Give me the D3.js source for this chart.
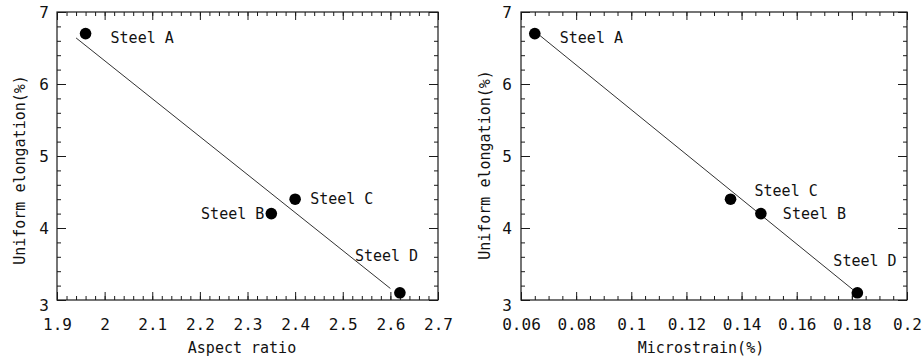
<!DOCTYPE html>
<html>
<head>
<meta charset="utf-8">
<script src="https://cdn.jsdelivr.net/npm/d3@7"></script>
<style>
  body { margin: 0; background: #fff; }
  text { font-family: "DejaVu Sans Mono", monospace; fill: #111; }
</style>
</head>
<body>
<script>
// data
var steels = ["Steel A", "Steel B", "Steel C", "Steel D"];
var elongation = [6.7, 4.2, 4.4, 3.1];
var aspectRatio = [1.96, 2.35, 2.40, 2.62];
var microstrain = [0.065, 0.147, 0.136, 0.182];

// end points of the drawn fit lines
var aspectFitX = [1.94, 2.60];
var aspectFitY = [6.64, 3.16];
var microFitX = [0.066, 0.1805];
var microFitY = [6.70, 3.14];

// tick values
var elongTicks = [3, 4, 5, 6, 7];
var aspectTicks = [1.9, 2, 2.1, 2.2, 2.3, 2.4, 2.5, 2.6, 2.7];
var microTicks = [0.06, 0.08, 0.1, 0.12, 0.14, 0.16, 0.18, 0.2];

var width = 923, height = 360;
var plotTop = 12, plotBottom = 300;
var ink = "#1a1a1a";

var svg = d3.select("body").append("svg")
  .attr("width", width)
  .attr("height", height);

function minorTicks(lo, hi, step) {
  var out = [];
  var n = Math.round((hi - lo) / step);
  for (var i = 0; i <= n; i++) out.push(+(lo + i * step).toFixed(6));
  return out;
}

function drawPanel(p) {
  var x = d3.scaleLinear().domain(p.xDomain).range([p.left, p.right]);
  var y = d3.scaleLinear().domain([3, 7]).range([plotBottom, plotTop]);
  var g = svg.append("g");

  var xMinor = minorTicks(p.xDomain[0], p.xDomain[1], p.xMinorStep);
  var yMinor = minorTicks(3, 7, 0.2);

  var fmt = d3.format("");
  // bottom (labelled) + top
  g.append("g").attr("transform", "translate(0," + plotBottom + ")")
    .call(d3.axisBottom(x).tickValues(xMinor).tickSize(-4).tickFormat(""));
  g.append("g").attr("transform", "translate(0," + plotBottom + ")")
    .call(d3.axisBottom(x).tickValues(p.xTicks).tickSize(-8).tickFormat(fmt))
    .selectAll("text").attr("font-size", 16).attr("dy", "0.35em").attr("y", 24);
  g.append("g").attr("transform", "translate(0," + plotTop + ")")
    .call(d3.axisTop(x).tickValues(xMinor).tickSize(-4).tickFormat(""));
  g.append("g").attr("transform", "translate(0," + plotTop + ")")
    .call(d3.axisTop(x).tickValues(p.xTicks).tickSize(-8).tickFormat(""));

  // left (labelled) + right
  g.append("g").attr("transform", "translate(" + p.left + ",0)")
    .call(d3.axisLeft(y).tickValues(yMinor).tickSize(-4).tickFormat(""));
  g.append("g").attr("transform", "translate(" + p.left + ",0)")
    .call(d3.axisLeft(y).tickValues(elongTicks).tickSize(-9).tickFormat(fmt))
    .selectAll("text").attr("font-size", 16)
    .attr("dy", function(d) { return d === 3 ? "0.65em" : "0.35em"; })
    .attr("x", -p.yLabelPad);
  g.append("g").attr("transform", "translate(" + p.right + ",0)")
    .call(d3.axisRight(y).tickValues(yMinor).tickSize(-4).tickFormat(""));
  g.append("g").attr("transform", "translate(" + p.right + ",0)")
    .call(d3.axisRight(y).tickValues(elongTicks).tickSize(-9).tickFormat(""));

  g.selectAll(".domain").remove();
  g.selectAll(".tick line").attr("stroke", ink).attr("stroke-width", 1);
  g.selectAll(".tick text").attr("fill", "#111").attr("font-family", "DejaVu Sans Mono");

  g.append("rect")
    .attr("x", p.left).attr("y", plotTop)
    .attr("width", p.right - p.left).attr("height", plotBottom - plotTop)
    .attr("fill", "none").attr("stroke", ink).attr("stroke-width", 1.2);

  // fit line
  g.append("line")
    .attr("x1", x(p.fitX[0])).attr("y1", y(p.fitY[0]))
    .attr("x2", x(p.fitX[1])).attr("y2", y(p.fitY[1]))
    .attr("stroke", ink).attr("stroke-width", 0.9);

  // points
  g.selectAll("circle.pt").data(steels).enter().append("circle")
    .attr("class", "pt")
    .attr("cx", function(d, i) { return x(p.xs[i]); })
    .attr("cy", function(d, i) { return y(elongation[i]); })
    .attr("r", 5.8)
    .attr("fill", "#000");

  // point labels
  g.selectAll("text.lbl").data(steels).enter().append("text")
    .attr("class", "lbl")
    .attr("x", function(d, i) { return x(p.xs[i]) + p.labelOff[i][0]; })
    .attr("y", function(d, i) { return y(elongation[i]) + p.labelOff[i][1]; })
    .attr("text-anchor", function(d, i) { return p.labelOff[i][2] || "start"; })
    .attr("dominant-baseline", "central")
    .attr("font-size", 15)
    .text(function(d) { return d; });

  // titles
  g.append("text")
    .attr("x", p.xTitleX).attr("y", 348)
    .attr("text-anchor", "middle").attr("dominant-baseline", "central")
    .attr("font-size", 15)
    .text(p.xTitle);
  g.append("text")
    .attr("transform", "translate(" + p.yTitleX + "," + p.yTitleY + ") rotate(-90)")
    .attr("text-anchor", "middle").attr("dominant-baseline", "central")
    .attr("font-size", 15)
    .text("Uniform elongation(%)");
}

drawPanel({
  left: 57, right: 438,
  xDomain: [1.9, 2.7], xMinorStep: 0.02, xTicks: aspectTicks,
  xs: aspectRatio, fitX: aspectFitX, fitY: aspectFitY,
  labelOff: [[25, 4], [-7, 0, "end"], [15, 0], [-45, -37]],
  xTitle: "Aspect ratio", xTitleX: 242,
  yTitleX: 20, yTitleY: 170, yLabelPad: 8
});

drawPanel({
  left: 521, right: 907,
  xDomain: [0.06, 0.2], xMinorStep: 0.005, xTicks: microTicks,
  xs: microstrain, fitX: microFitX, fitY: microFitY,
  labelOff: [[25, 4], [22, 0], [24, -8], [-24, -32]],
  xTitle: "Microstrain(%)", xTitleX: 701,
  yTitleX: 485, yTitleY: 165, yLabelPad: 9
});
</script>
</body>
</html>
